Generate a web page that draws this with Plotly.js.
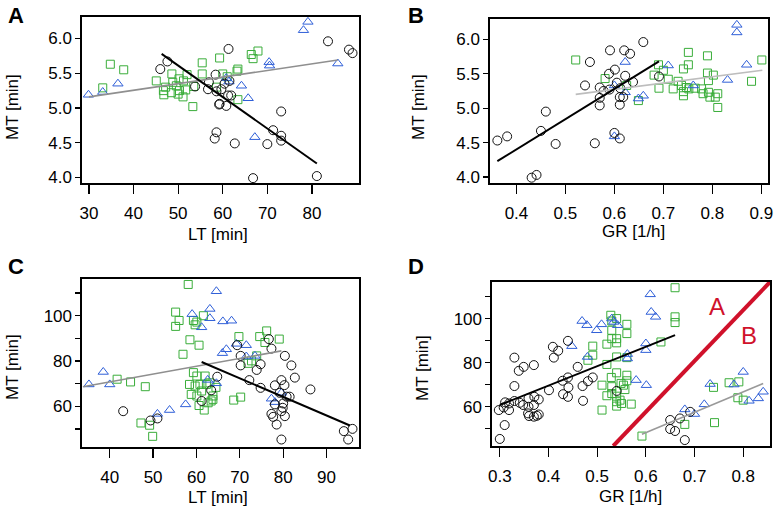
<!DOCTYPE html>
<html><head><meta charset="utf-8">
<script src="https://cdn.plot.ly/plotly-3.0.1.min.js"></script>
<style>html,body{margin:0;padding:0;background:#fff}#chart{width:777px;height:511px}</style>
</head><body><div id="chart"></div>
<script>
// ---------- Panel A: MT vs LT ----------
var A_circ_x = [46.0,47.6,53.8,56.9,56.7,58.4,58.6,59.2,59.3,59.7,60.4,60.8,61.2,61.3,61.5,61.9,58.6,58.2,62.7,66.8,73.1,71.3,73.1,73.1,70.0,83.6,88.3,89.1,81.1];
var A_circ_y = [5.56,5.67,5.31,5.37,5.27,5.48,5.24,5.05,5.06,5.27,5.35,5.03,5.18,5.85,5.39,5.18,4.65,4.56,4.49,3.99,4.95,4.68,4.60,4.53,4.48,5.96,5.84,5.79,4.02];
var A_sq_x = [34.8,37.8,33.1,45.1,46.8,46.7,48.6,48.8,50.2,50.3,51.1,51.2,51.7,48.5,53.3,53.5,55.4,55.4,59.3,60.0,61.0,58.6,67.9,66.4,66.8,63.4,63.2,63.4,49.6,50.0,47.2,52.0];
var A_sq_y = [5.63,5.55,5.29,5.39,5.19,5.25,5.49,5.37,5.42,5.25,5.16,5.39,5.26,5.22,5.02,5.31,5.65,5.49,5.72,5.49,5.45,5.30,5.82,5.77,5.71,5.56,5.53,5.12,5.32,5.20,5.30,5.48];
var A_tri_x = [29.9,33.1,36.5,60.8,61.4,64.2,65.7,67.2,70.4,70.5,79.1,78.1,85.8];
var A_tri_y = [5.19,5.23,5.35,5.43,5.38,5.32,5.14,4.58,5.66,5.61,6.24,6.12,5.64];
var A_gray_x = [30, 85.8], A_gray_y = [5.16, 5.69];
var A_black_x = [46.3, 81.1], A_black_y = [5.78, 4.20];

// ---------- Panel B: MT vs GR ----------
var B_circ_x = [0.361,0.381,0.431,0.441,0.450,0.460,0.480,0.550,0.540,0.560,0.570,0.570,0.570,0.591,0.601,0.589,0.611,0.611,0.600,0.611,0.620,0.622,0.618,0.578,0.590,0.659,0.632,0.638,0.691,0.605,0.612];
var B_circ_y = [4.53,4.59,3.99,4.03,4.67,4.95,4.48,5.67,5.33,4.49,5.30,5.15,5.04,5.84,5.56,5.50,5.05,5.16,4.64,4.56,5.84,5.47,5.16,5.25,5.27,5.96,5.79,5.38,5.46,5.37,5.29];
var B_sq_x = [0.521,0.581,0.625,0.649,0.690,0.681,0.700,0.691,0.710,0.720,0.730,0.751,0.751,0.741,0.741,0.741,0.737,0.747,0.752,0.765,0.778,0.781,0.790,0.790,0.792,0.792,0.795,0.802,0.811,0.806,0.811,0.880,0.901];
var B_sq_y = [5.70,5.43,5.33,5.11,5.63,5.48,5.55,5.29,5.42,5.28,5.39,5.81,5.63,5.57,5.24,5.18,5.33,5.30,5.28,5.29,5.28,5.21,5.76,5.51,5.40,5.23,5.16,5.48,5.21,5.16,5.01,5.39,5.70];
var B_tri_x = [0.600,0.600,0.622,0.622,0.649,0.659,0.710,0.761,0.831,0.850,0.850,0.870];
var B_tri_y = [5.33,4.59,5.67,5.23,5.14,5.18,5.62,5.33,5.41,6.21,6.10,5.63];
var B_gray_x = [0.521, 0.902], B_gray_y = [5.20, 5.55];
var B_black_x = [0.361, 0.691], B_black_y = [4.23, 5.68];

// ---------- Panel C: MT vs LT ----------
var C_circ_x = [43.1,49.4,51.0,64.8,63.4,61.2,76.7,77.3,69.4,70.2,70.2,80.4,81.9,82.7,74.8,73.9,72.2,74.8,78.1,79.6,80.3,86.3,79.2,80.8,78.1,79.9,79.6,80.4,77.3,77.7,78.5,79.6,94.0,95.0,96.0,81.5,80.0];
var C_circ_y = [57.9,53.8,54.7,73.1,67.1,62.4,89.7,85.5,87.0,82.3,78.1,82.3,78.1,72.7,78.6,76.1,71.6,68.2,69.3,71.6,69.4,67.5,66.0,64.3,60.9,59.4,57.9,55.7,56.7,55.4,52.0,45.4,49.1,45.4,50.1,64.3,61.3];
var C_sq_x = [58.1,41.7,44.8,48.2,47.2,49.2,49.9,55.2,56.0,55.2,58.5,60.6,56.9,59.3,60.1,59.7,61.6,59.3,60.1,58.4,59.7,60.8,62.0,58.8,60.1,61.2,62.3,63.1,63.8,63.4,63.8,62.7,60.6,61.8,68.6,70.2,71.9,72.7,73.9,69.8,76.2,74.6,75.8,79.1,64.5];
var C_sq_y = [113.8,72.0,70.8,68.7,52.7,51.7,46.8,101.6,97.9,95.3,89.4,87.0,83.0,97.9,97.2,96.0,100.0,74.9,73.4,69.7,69.0,69.7,73.4,65.3,64.6,66.8,69.7,70.4,64.6,62.4,63.1,61.6,60.4,58.4,62.8,64.1,79.0,80.1,82.3,90.8,93.3,90.8,88.2,89.7,68.4];
var C_tri_x = [35.2,38.5,40.0,51.0,53.8,57.5,64.6,59.0,63.1,63.1,61.2,66.0,66.9,66.1,68.1,69.2,71.5,71.5,73.5,62.6,64.6,77.3,78.1,79.6];
var C_tri_y = [69.7,75.2,69.7,56.7,58.4,60.9,110.8,100.7,103.0,98.9,94.9,83.5,85.2,97.5,97.8,87.6,87.0,82.0,82.3,71.7,70.2,63.4,61.9,66.0];
var C_gray_x = [33.8, 79.6], C_gray_y = [68.7, 84.5];
var C_black_x = [61.2, 95.4], C_black_y = [79.6, 51.6];

// ---------- Panel D: MT vs GR ----------
var D_circ_x = [0.300,0.310,0.298,0.308,0.319,0.319,0.330,0.311,0.330,0.330,0.339,0.349,0.341,0.348,0.359,0.359,0.358,0.360,0.370,0.371,0.370,0.370,0.380,0.380,0.376,0.401,0.409,0.411,0.420,0.429,0.430,0.440,0.440,0.441,0.440,0.460,0.470,0.471,0.481,0.491,0.540,0.650,0.650,0.660,0.670,0.680,0.691];
var D_circ_y = [45.4,51.7,58.5,59.7,58.5,61.5,62.6,62.0,69.4,82.3,76.3,78.1,61.8,60.8,63.8,60.0,57.0,55.8,78.9,64.5,60.8,55.5,63.3,56.5,55.9,67.5,87.2,82.3,85.4,71.8,65.7,89.9,73.3,68.8,64.5,78.1,69.4,62.7,71.6,73.3,67.2,54.0,49.9,49.0,54.7,44.9,57.7];
var D_sq_x = [0.660,0.660,0.660,0.528,0.530,0.530,0.540,0.561,0.561,0.530,0.540,0.540,0.520,0.491,0.491,0.540,0.561,0.520,0.481,0.631,0.529,0.540,0.561,0.561,0.510,0.530,0.549,0.554,0.557,0.530,0.520,0.540,0.547,0.540,0.540,0.550,0.570,0.510,0.592,0.680,0.771,0.791,0.739,0.741,0.789,0.800];
var D_sq_y = [114.0,100.8,98.2,101.5,98.9,94.7,100.0,97.4,93.2,90.9,90.9,89.0,88.4,87.5,83.4,82.6,82.3,79.2,81.1,89.4,73.3,75.4,74.3,71.8,69.8,69.1,70.6,69.8,67.8,66.0,65.0,64.8,63.0,62.3,60.3,61.5,61.2,58.5,46.7,52.0,70.9,71.3,68.8,52.8,64.1,63.0];
var D_tri_x = [0.469,0.479,0.499,0.509,0.530,0.534,0.542,0.448,0.480,0.562,0.562,0.609,0.611,0.620,0.600,0.600,0.580,0.601,0.732,0.781,0.800,0.720,0.680,0.700,0.812,0.831,0.841];
var D_tri_y = [98.9,97.0,94.7,97.4,100.0,98.5,97.0,87.5,82.6,83.9,81.9,111.0,103.0,100.8,88.7,85.7,72.1,69.8,70.3,70.1,75.8,61.1,58.8,56.7,62.7,63.8,66.8];
var D_gray_x = [0.592, 0.841], D_gray_y = [47.5, 70.6];
var D_black_x = [0.300, 0.660], D_black_y = [60.8, 92.5];
var D_red_x = [0.533, 0.855], D_red_y = [42.2, 116.6];

// tick labels
var LT_ticksA = [30,40,50,60,70,80];
var MT_ticksA = [4.0,4.5,5.0,5.5,6.0];
var GR_ticksB = [0.4,0.5,0.6,0.7,0.8,0.9];
var LT_ticksC = [40,50,60,70,80,90];
var MT_ticksCD = [50,60,70,80,90,100,110];
var MT_textCD = ['','60','','80','','100',''];
var GR_ticksD = [0.3,0.4,0.5,0.6,0.7,0.8];

var FONT = 'Liberation Sans, Arial, Helvetica, sans-serif';
var GREEN = '#3aad3a', BLUE = '#2f5fd8', BLACK = '#111111', RED = '#d0112b';

function pts(x, y, sym, col, sz, n) {
  return {x:x, y:y, type:'scatter', mode:'markers', xaxis:'x'+n, yaxis:'y'+n, hoverinfo:'skip', showlegend:false,
    marker:{symbol:sym, size:sz, color:col, line:{color:col, width:1}}};
}
function ln(x, y, col, w, n) {
  return {x:x, y:y, type:'scatter', mode:'lines', xaxis:'x'+n, yaxis:'y'+n, hoverinfo:'skip', showlegend:false,
    line:{color:col, width:w}};
}
function panel(n, cx, cy, sx, sy, tx, ty, gx, gy, grayCol, bx, by) {
  return [
    pts(sx, sy, 'square-open', GREEN, 8, n),
    pts(tx, ty, 'triangle-up-open', BLUE, 9, n),
    pts(cx, cy, 'circle-open', BLACK, 9, n),
    ln(gx, gy, grayCol, 1.6, n),
    ln(bx, by, '#000', 2, n)
  ];
}
var traces = [].concat(
  panel('', A_circ_x, A_circ_y, A_sq_x, A_sq_y, A_tri_x, A_tri_y, A_gray_x, A_gray_y, '#8f8f8f', A_black_x, A_black_y),
  panel('2', B_circ_x, B_circ_y, B_sq_x, B_sq_y, B_tri_x, B_tri_y, B_gray_x, B_gray_y, '#bdbdbd', B_black_x, B_black_y),
  panel('3', C_circ_x, C_circ_y, C_sq_x, C_sq_y, C_tri_x, C_tri_y, C_gray_x, C_gray_y, '#8f8f8f', C_black_x, C_black_y),
  panel('4', D_circ_x, D_circ_y, D_sq_x, D_sq_y, D_tri_x, D_tri_y, D_gray_x, D_gray_y, '#999999', D_black_x, D_black_y),
  [ln(D_red_x, D_red_y, RED, 4, '4')]
);

function xax(dom, rng, tv, tt, anchor) {
  return {domain:dom, range:rng, tickvals:tv, ticktext:tt, anchor:anchor, showline:true, mirror:true,
    linecolor:'#000', linewidth:1.6, ticks:'outside', ticklen:9, tickwidth:1.2, tickcolor:'#000',
    showgrid:false, zeroline:false, ticklabelstandoff:5, tickfont:{family:FONT, size:17, color:'#000'}, fixedrange:true};
}
function yax(dom, rng, tv, tt, anchor) {
  return {domain:dom, range:rng, tickvals:tv, ticktext:tt, anchor:anchor, showline:true, mirror:true,
    linecolor:'#000', linewidth:1.6, ticks:'outside', ticklen:5, tickwidth:1.2, tickcolor:'#000',
    showgrid:false, zeroline:false, tickfont:{family:FONT, size:17, color:'#000'}, fixedrange:true};
}
function fmt(arr, d) { return arr.map(function(v){ return v.toFixed(d); }); }

var W = 777, H = 511;
function px(x){ return x / W; } function py(y){ return 1 - y / H; }

var layout = {
  width:W, height:H, margin:{l:0,r:0,t:0,b:0}, paper_bgcolor:'#fff', plot_bgcolor:'#fff',
  font:{family:FONT, color:'#000'},
  xaxis:  xax([px(82), px(359)], [28.45, 90.55], LT_ticksA, fmt(LT_ticksA,0), 'y'),
  yaxis:  yax([py(183), py(17)], [3.92, 6.31], MT_ticksA, fmt(MT_ticksA,1), 'x'),
  xaxis2: xax([px(490), px(768)], [0.346, 0.9136], GR_ticksB, fmt(GR_ticksB,1), 'y2'),
  yaxis2: yax([py(183), py(19)], [3.913, 6.295], MT_ticksA, fmt(MT_ticksA,1), 'x2'),
  xaxis3: xax([px(82), px(359)], [33.6, 97.5], LT_ticksC, fmt(LT_ticksC,0), 'y3'),
  yaxis3: yax([py(447), py(279)], [42.1, 116.2], MT_ticksCD, MT_textCD, 'x3'),
  xaxis4: xax([px(492), px(770)], [0.284, 0.855], GR_ticksD, fmt(GR_ticksD,1), 'y4'),
  yaxis4: yax([py(446), py(282)], [42.2, 116.6], MT_ticksCD, MT_textCD, 'x4'),
  annotations: [
    {text:'<b>A</b>', x:px(16), y:py(15), font:{size:22}},
    {text:'<b>B</b>', x:px(416), y:py(15), font:{size:22}},
    {text:'<b>C</b>', x:px(16), y:py(266), font:{size:22}},
    {text:'<b>D</b>', x:px(416), y:py(266), font:{size:22}},
    {text:'LT [min]', x:px(218), y:py(234), font:{size:17}},
    {text:'MT [min]', x:px(12), y:py(107), textangle:-90, font:{size:17}},
    {text:'GR [1/h]', x:px(633), y:py(231), font:{size:17}},
    {text:'MT [min]', x:px(418), y:py(107), textangle:-90, font:{size:17}},
    {text:'LT [min]', x:px(218), y:py(497), font:{size:17}},
    {text:'MT [min]', x:px(12), y:py(367), textangle:-90, font:{size:17}},
    {text:'GR [1/h]', x:px(630), y:py(496), font:{size:17}},
    {text:'MT [min]', x:px(422), y:py(368), textangle:-90, font:{size:17}},
    {text:'A', xref:'x4', yref:'y4', x:0.746, y:105.7, font:{size:24, color:RED}},
    {text:'B', xref:'x4', yref:'y4', x:0.811, y:92.2, font:{size:24, color:RED}}
  ].map(function(a){
    return Object.assign({xref:'paper', yref:'paper', showarrow:false, xanchor:'center', yanchor:'middle'}, a,
      {font:Object.assign({family:FONT, color:'#000'}, a.font)});
  })
};

Plotly.newPlot('chart', traces, layout, {staticPlot:true, displayModeBar:false});
</script></body></html>
